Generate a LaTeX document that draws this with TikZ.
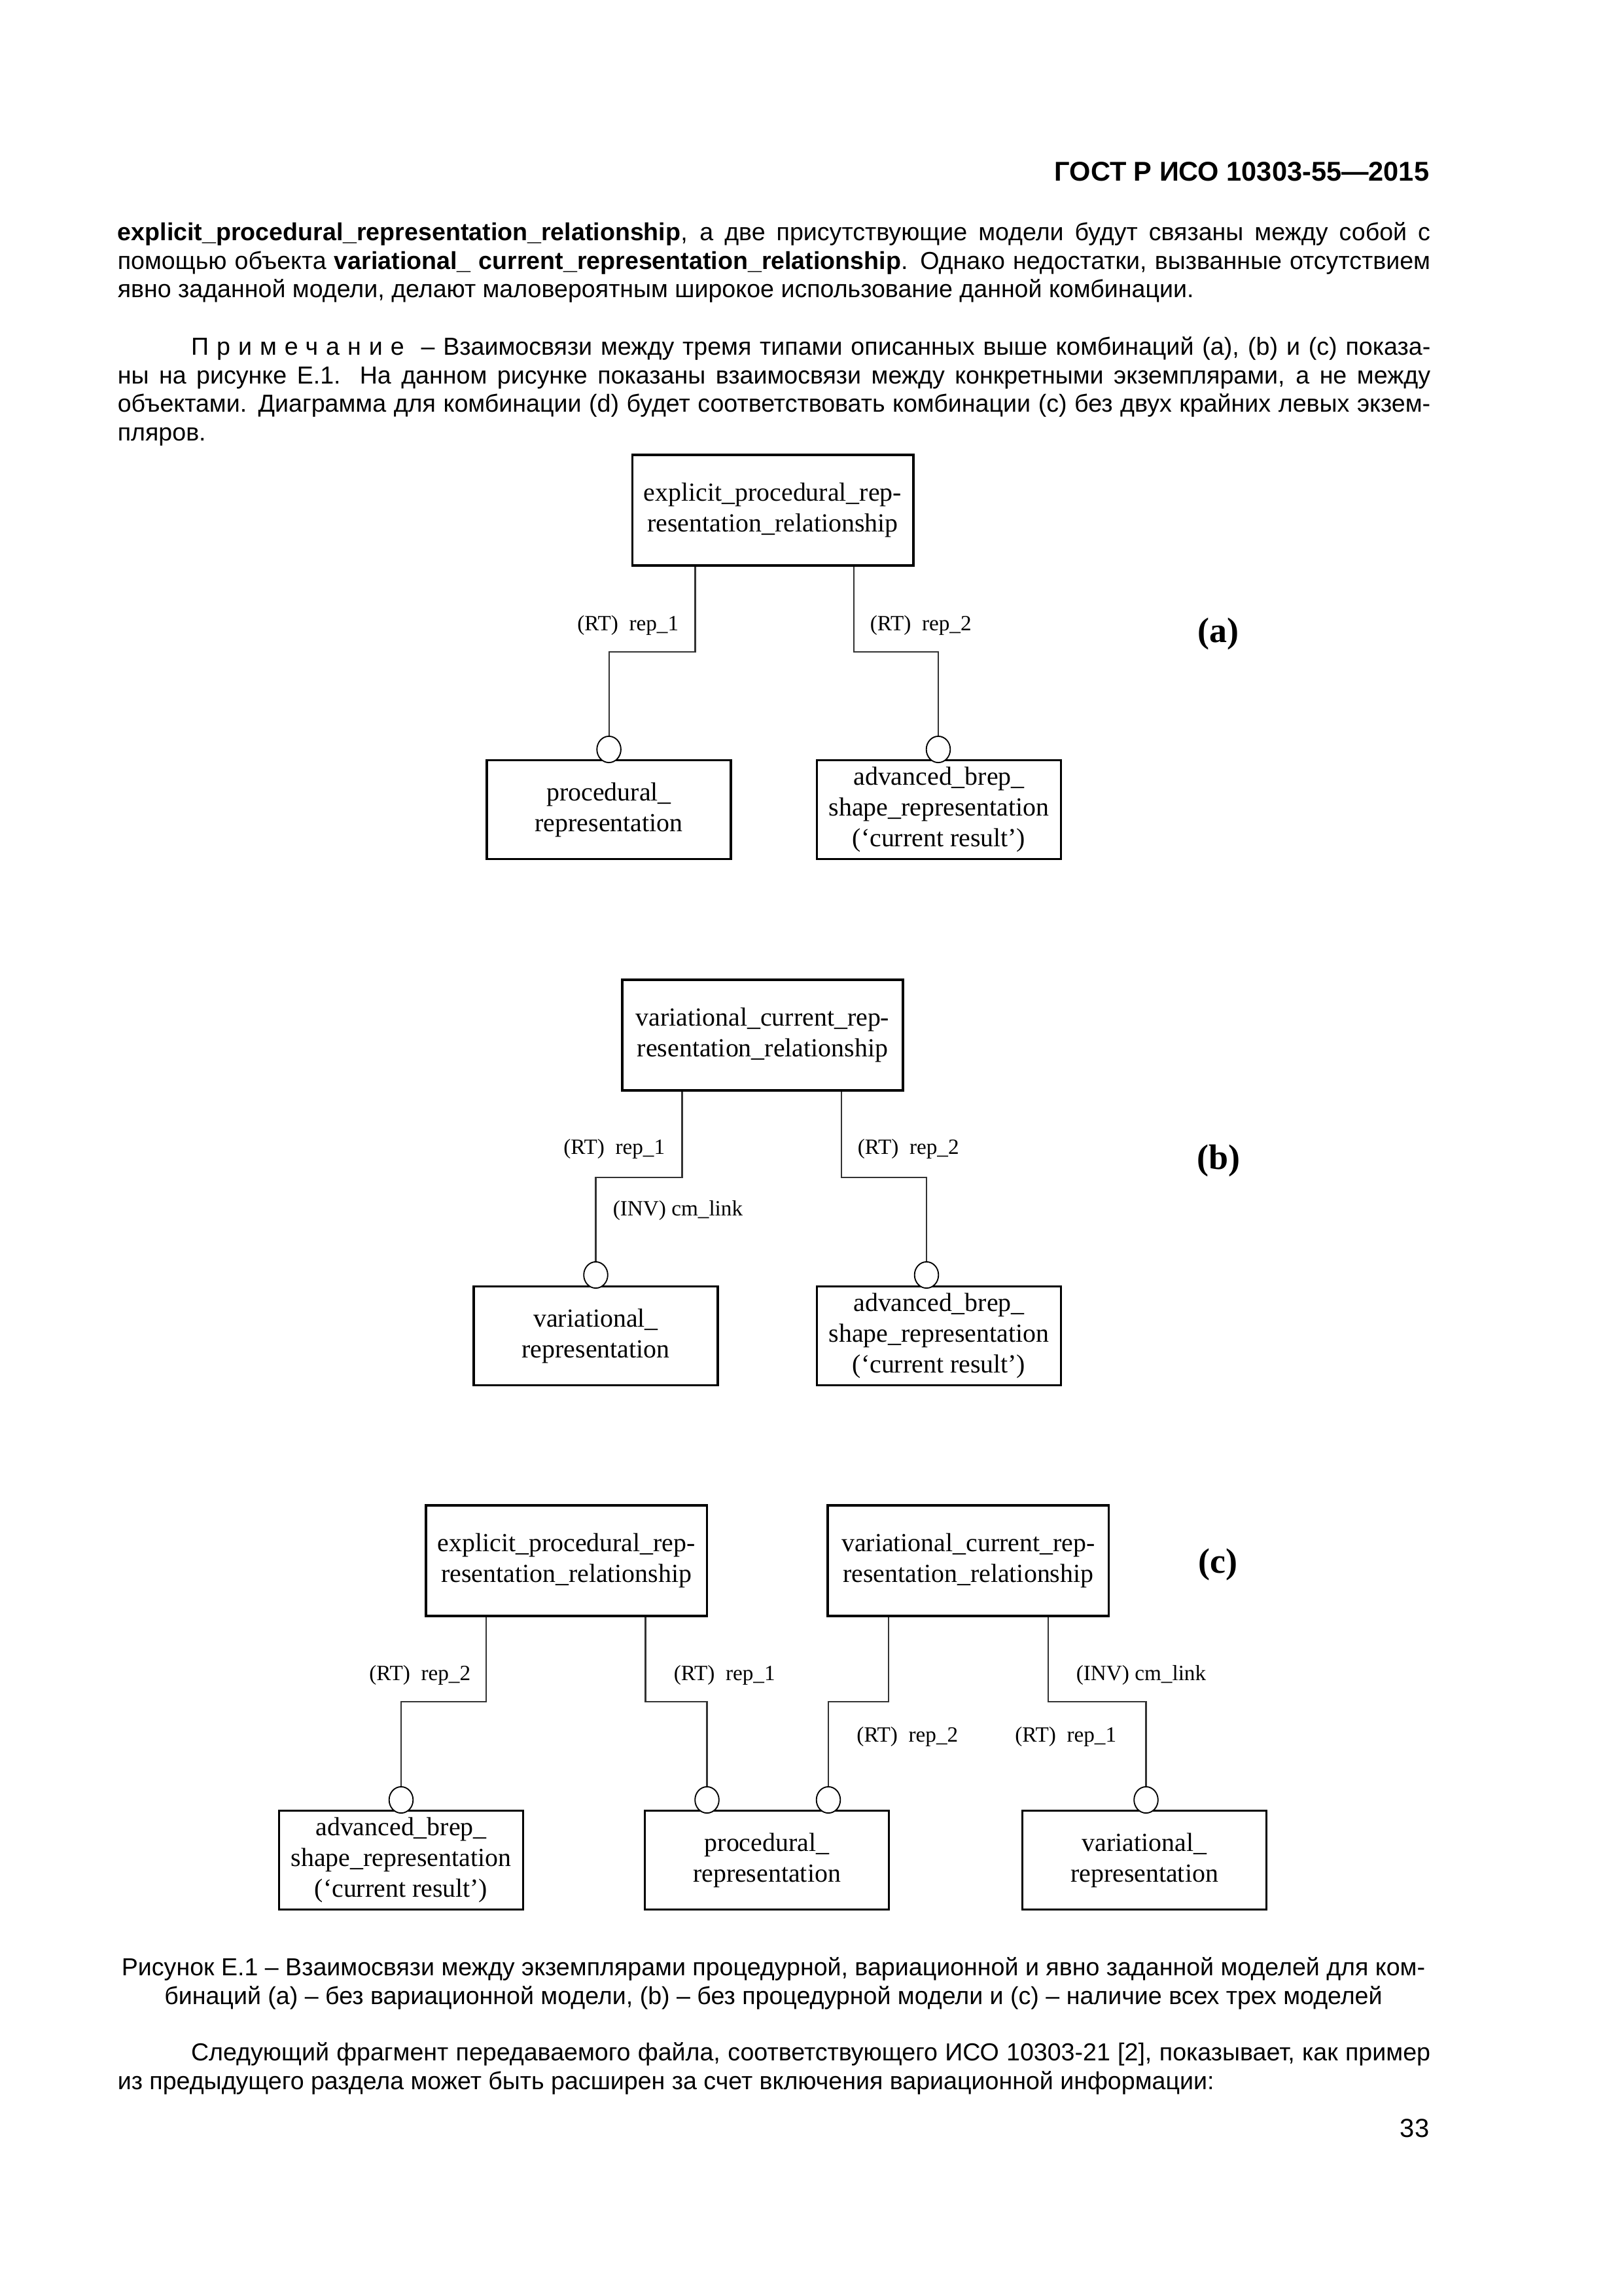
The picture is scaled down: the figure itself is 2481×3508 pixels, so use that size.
\documentclass[tikz,border=0pt]{standalone}
\usepackage{fontspec}
\setmainfont{Liberation Sans}
\newfontfamily\diafont{Liberation Serif}
\usetikzlibrary{shapes.geometric}
\tikzset{
  relbox/.style={rectangle, draw=black, line width=0.85pt, align=center,
                 minimum width=36.35mm, minimum height=14.3mm, inner sep=1pt,
                 font=\diafont\fontsize{9.6}{11.3}\selectfont},
  entbox/.style={relbox, minimum width=31.55mm, minimum height=12.8mm},
  ring/.style={ellipse, draw=black, line width=0.45pt, fill=white,
               minimum width=3.1mm, minimum height=3.4mm, inner sep=0pt},
  link/.style={draw=black!80, line width=0.5pt},
  attr/.style={font=\diafont\fontsize{8}{9.6}\selectfont, inner sep=0pt},
  tag/.style={font=\diafont\bfseries\fontsize{13}{15}\selectfont, inner sep=0pt},
  para/.style={text width=169.8mm, align=justify, inner sep=0pt, anchor=north west,
               font=\fontsize{9.05}{10.46}\selectfont}
}

\begin{document}
\begin{tikzpicture}[x=0.084643mm, y=-0.084643mm]
\useasboundingbox (0,0) rectangle (2481,3508);
\fill[white] (0,0) rectangle (2481,3508);

% page text
\node[anchor=east, inner sep=0pt, font=\bfseries\fontsize{10}{12}\selectfont] (hdr) at (2185,262)
  {ГОСТ Р ИСО 10303-55—2015};

\node[para] (p1) at (179,339)
 {\textbf{explicit\_procedural\_representation\_relationship}, а две присутствующие модели будут связаны между собой с\linebreak
  помощью объекта \textbf{variational\_ current\_representation\_relationship}. Однако недостатки, вызванные отсутствием\linebreak
  явно заданной модели, делают маловероятным широкое использование данной комбинации.};

\node[para] (note) at (179,514)
 {\hspace*{9.5mm}{\addfontfeature{LetterSpace=32}Примечание}\ \ – Взаимосвязи между тремя типами описанных выше комбинаций (a), (b) и (c) показа-\linebreak
  ны на рисунке Е.1. На данном рисунке показаны взаимосвязи между конкретными экземплярами, а не между\linebreak
  объектами. Диаграмма для комбинации (d) будет соответствовать комбинации (c) без двух крайних левых экзем-\linebreak
  пляров.};

\node[anchor=north, inner sep=0pt, align=center, font=\fontsize{9.05}{10.46}\selectfont] (cap) at (1182,2990)
 {Рисунок Е.1 – Взаимосвязи между экземплярами процедурной, вариационной и явно заданной моделей для ком-\\
  бинаций (a) – без вариационной модели, (b) – без процедурной модели и (c) – наличие всех трех моделей};

\node[para] (p2) at (179,3120)
 {\hspace*{9.5mm}Следующий фрагмент передаваемого файла, соответствующего ИСО 10303-21 [2], показывает, как пример\linebreak
  из предыдущего раздела может быть расширен за счет включения вариационной информации:};

\node[anchor=east, inner sep=0pt, font=\fontsize{9.6}{11}\selectfont] (pg) at (2185,3252) {33};

% (a)
\node[relbox] (aTop) at (1181,779.5) {explicit\_procedural\_rep-\\resentation\_relationship};
\node[entbox] (aProc) at (930.6,1237) {procedural\_\\representation};
\node[entbox] (aBrep) at (1435,1237) {advanced\_brep\_\\shape\_representation\\(‘current result’)};
\node[ring] (aC1) at (930.6,1145) {};
\node[ring] (aC2) at (1434,1145) {};
\draw[link] ([xshift=-10.03mm]aTop.south) -- ++(0,130) -| (aC1.north);
\draw[link] ([xshift=10.5mm]aTop.south) -- ++(0,130) -| (aC2.north);
\node[attr, anchor=east] (aL1) at (1038,955) {(RT)~~rep\_1};
\node[attr, anchor=west] (aL2) at (1329,955) {(RT)~~rep\_2};
\node[tag] (aTag) at (1862,969) {(a)};

% (b)
\node[relbox] (bTop) at (1165.5,1581.5) {variational\_current\_rep-\\resentation\_relationship};
\node[entbox] (bVar) at (910.5,2041) {variational\_\\representation};
\node[entbox] (bBrep) at (1435,2041) {advanced\_brep\_\\shape\_representation\\(‘current result’)};
\node[ring] (bC1) at (910.5,1948) {};
\node[ring] (bC2) at (1416,1948) {};
\draw[link] ([xshift=-10.41mm]bTop.south) -- ++(0,131) -| (bC1.north);
\draw[link] ([xshift=10.2mm]bTop.south) -- ++(0,131) -| (bC2.north);
\node[attr, anchor=east] (bL1) at (1017,1755) {(RT)~~rep\_1};
\node[attr, anchor=west] (bL2) at (1310,1755) {(RT)~~rep\_2};
\node[attr, anchor=west] (bL3) at (936,1849) {(INV) cm\_link};
\node[tag] (bTag) at (1862,1773) {(b)};

% (c)
\node[relbox] (cExp) at (865.7,2384.5) {explicit\_procedural\_rep-\\resentation\_relationship};
\node[relbox] (cVar) at (1479.8,2384.5) {variational\_current\_rep-\\resentation\_relationship};
\node[entbox] (cBrep) at (613,2842) {advanced\_brep\_\\shape\_representation\\(‘current result’)};
\node[entbox] (cProc) at (1172,2842) {procedural\_\\representation};
\node[entbox] (cVrep) at (1749,2842) {variational\_\\representation};
\node[ring] (cC1) at (613,2750) {};
\node[ring] (cC2) at (1080.5,2750) {};
\node[ring] (cC3) at (1266,2750) {};
\node[ring] (cC4) at (1751.5,2750) {};
\draw[link] ([xshift=-10.41mm]cExp.south) -- ++(0,129) -| (cC1.north);
\draw[link] ([xshift=10.22mm]cExp.south) -- ++(0,129) -| (cC2.north);
\draw[link] ([xshift=-10.31mm]cVar.south) -- ++(0,129) -| (cC3.north);
\draw[link] ([xshift=10.32mm]cVar.south) -- ++(0,129) -| (cC4.north);
\node[attr, anchor=east] (cL1) at (720,2559) {(RT)~~rep\_2};
\node[attr, anchor=west] (cL2) at (1029,2559) {(RT)~~rep\_1};
\node[attr, anchor=west] (cL3) at (1644,2559) {(INV) cm\_link};
\node[attr, anchor=west] (cL4) at (1308.6,2653) {(RT)~~rep\_2};
\node[attr, anchor=east] (cL5) at (1707,2653) {(RT)~~rep\_1};
\node[tag] (cTag) at (1861,2390) {(c)};

\end{tikzpicture}
\end{document}
